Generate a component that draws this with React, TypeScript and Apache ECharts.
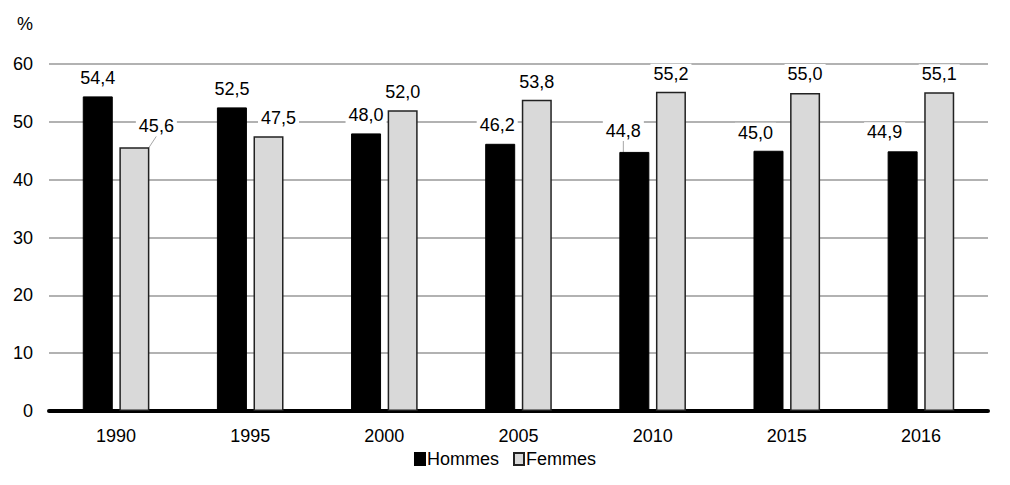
import React, { useEffect, useRef } from 'react';
import * as echarts from 'echarts';

const years = ['1990', '1995', '2000', '2005', '2010', '2015', '2016'];
const hommes = [54.4, 52.5, 48.0, 46.2, 44.8, 45.0, 44.9];
const femmes = [45.6, 47.5, 52.0, 53.8, 55.2, 55.0, 55.1];
const yTicks = [0, 10, 20, 30, 40, 50, 60];

// décalages des étiquettes (comme dans l'original) [dx, dy, ligne de rappel]
const hommesShift: [number, number, boolean][] = [
  [0, 0, false], [0, 0, false], [0, 0, false], [-3, -1, false],
  [-11, -3, true], [-13, 0, false], [-18, -1, false],
];
const femmesShift: [number, number, boolean][] = [
  [22, -3, true], [10, 0, false], [0, 0, false], [0, 0, false],
  [0, 0, false], [0, -1, false], [0, 0, false],
];

const fmt = (v: number) => v.toFixed(1).replace('.', ',');

const FONT = '"Liberation Sans", Arial, sans-serif';

export default function App() {
  const chartRef = useRef<HTMLDivElement>(null);

  useEffect(() => {
    if (!chartRef.current) return;
    const chart = echarts.init(chartRef.current, null, { renderer: 'svg' });

    const labelBase = {
      show: true,
      position: 'top',
      distance: 8,
      color: '#000',
      fontFamily: FONT,
      fontSize: 18,
      backgroundColor: '#fff',
      padding: [1, 3],
      formatter: (p: any) => fmt(p.value),
    };

    const makeData = (vals: number[], shifts: [number, number, boolean][]) =>
      vals.map((v, i) => ({
        value: v,
        labelLine: { show: shifts[i][2], lineStyle: { color: '#a6a6a6', width: 1 } },
      }));

    const makeLayout = (shifts: [number, number, boolean][]) => (p: any) => ({
      dx: shifts[p.dataIndex][0],
      dy: shifts[p.dataIndex][1],
    });

    chart.setOption({
      animation: false,
      textStyle: { fontFamily: FONT },
      title: {
        text: '%',
        left: 4,
        top: 2,
        textStyle: { fontSize: 18, fontWeight: 'normal', color: '#000', fontFamily: FONT },
      },
      grid: { left: 41, right: 14, top: 56, bottom: 66 },
      legend: {
        bottom: 4,
        left: 'center',
        itemWidth: 10,
        itemHeight: 12,
        itemGap: 14,
        icon: 'rect',
        textStyle: { fontSize: 18, color: '#000', fontFamily: FONT, padding: [0, 0, 0, -3] },
        data: ['Hommes', 'Femmes'],
      },
      xAxis: {
        type: 'category',
        data: years,
        axisLine: { show: true, lineStyle: { color: '#000', width: 4 } },
        axisTick: { show: false },
        axisLabel: { color: '#000', fontSize: 18, margin: 16, fontFamily: FONT },
      },
      yAxis: {
        type: 'value',
        min: yTicks[0],
        max: yTicks[yTicks.length - 1],
        interval: 10,
        axisLine: { show: false },
        axisTick: { show: false },
        axisLabel: { color: '#000', fontSize: 18, margin: 16, fontFamily: FONT },
        splitLine: { lineStyle: { color: '#999', width: 1.5 } },
      },
      series: [
        {
          name: 'Hommes',
          type: 'bar',
          barWidth: 30,
          barGap: '22%',
          itemStyle: { color: '#000', borderColor: '#000', borderWidth: 1 },
          label: labelBase,
          data: makeData(hommes, hommesShift),
          labelLayout: makeLayout(hommesShift),
        },
        {
          name: 'Femmes',
          type: 'bar',
          barWidth: 30,
          itemStyle: { color: '#d9d9d9', borderColor: '#222', borderWidth: 1.5 },
          label: labelBase,
          data: makeData(femmes, femmesShift),
          labelLayout: makeLayout(femmesShift),
        },
      ],
    });

    return () => {
      chart.dispose();
    };
  }, []);

  return <div ref={chartRef} style={{ width: '994px', height: '469px' }} />;
}
